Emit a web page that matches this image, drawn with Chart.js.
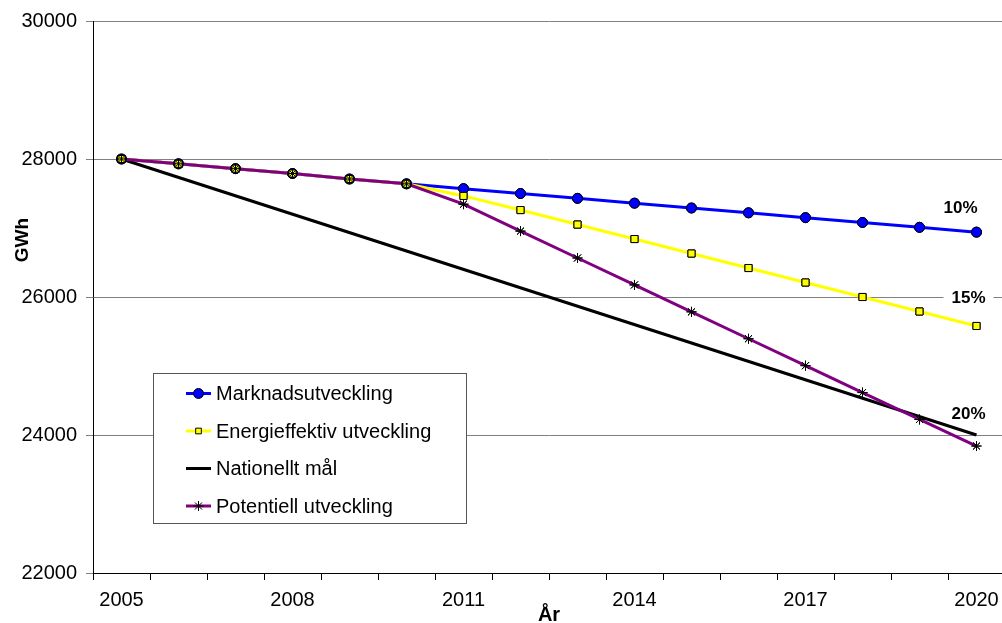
<!DOCTYPE html>
<html>
<head>
<meta charset="utf-8">
<script src="https://cdn.jsdelivr.net/npm/chart.js@4.4.1/dist/chart.umd.min.js"></script>
<style>
  html, body { margin: 0; padding: 0; overflow: hidden; background: #fff; }
  #gwhChart { position: absolute; left: 0; top: 0; }
</style>
</head>
<body>
<canvas id="gwhChart" width="1011" height="623"></canvas>
<script>
const years = ['2005', '2006', '2007', '2008', '2009', '2010', '2011', '2012',
  '2013', '2014', '2015', '2016', '2017', '2018', '2019', '2020'];

const marknadsutveckling = [28000, 27930, 27860, 27790, 27710, 27640, 27570, 27500,
  27430, 27360, 27290, 27220, 27150, 27080, 27010, 26940];
const energieffektiv = [28000, 27930, 27860, 27790, 27710, 27640, 27465, 27260,
  27050, 26840, 26630, 26420, 26210, 26000, 25790, 25580];
// straight target line, only the two ends are given
const nationelltMal = [28000, null, null, null, null, null, null, null,
  null, null, null, null, null, null, null, 24000];
const potentiell = [28000, 27930, 27860, 27790, 27710, 27640, 27345, 26955,
  26565, 26175, 25785, 25395, 25005, 24615, 24225, 23840];

const seriesNames = ['Marknadsutveckling', 'Energieffektiv utveckling', 'Nationellt mål', 'Potentiell utveckling'];
const yTicks = [22000, 24000, 26000, 28000, 30000];
const pctLabels = ['10%', '15%', '20%'];
const pctValues = [27300, 26000, 24320];

const FONT = '"Liberation Sans", Arial, sans-serif';

// Excel draws all lines first and the markers afterwards
const overlay = {
  id: 'overlay',
  afterDatasetsDraw(chart) {
    const ctx = chart.ctx;
    [0, 1, 3].forEach(i => {
      chart.getDatasetMeta(i).data.forEach(p => p.draw(ctx, chart.chartArea));
    });
  },
  afterDraw(chart) {
    const ctx = chart.ctx;
    const xs = chart.scales.x, ys = chart.scales.y;
    ctx.save();

    // percentage labels at the right end
    ctx.font = 'bold 17px ' + FONT;
    ctx.textAlign = 'center';
    ctx.textBaseline = 'middle';
    const xr = xs.getPixelForValue(years.length - 1);
    pctLabels.forEach((t, i) => {
      const y = ys.getPixelForValue(pctValues[i]);
      const x = i === 0 ? xr - 16 : xr - 8;
      if (i === 1) {
        ctx.fillStyle = '#fff';
        ctx.fillRect(x - 25, y - 8, 50, 16);
      }
      ctx.fillStyle = '#000';
      ctx.fillText(t, x, y + 1);
    });

    // axis titles
    ctx.font = 'bold 20px ' + FONT;
    ctx.textBaseline = 'alphabetic';
    ctx.fillText('År', (chart.chartArea.left + chart.chartArea.right) / 2, 621);
    ctx.save();
    ctx.translate(28, 240);
    ctx.rotate(-Math.PI / 2);
    ctx.font = 'bold 19px ' + FONT;
    ctx.fillText('GWh', 0, 0);
    ctx.restore();

    // legend box
    ctx.fillStyle = '#fff';
    ctx.fillRect(153.5, 373.5, 313, 150);
    ctx.strokeStyle = '#555';
    ctx.lineWidth = 1;
    ctx.strokeRect(153.5, 373.5, 313, 150);
    ctx.font = '20px ' + FONT;
    ctx.textAlign = 'left';
    ctx.textBaseline = 'middle';
    chart.data.datasets.forEach((ds, i) => {
      const y = 393.5 + i * 37.5;
      ctx.strokeStyle = ds.borderColor;
      ctx.lineWidth = ds.borderWidth;
      ctx.beginPath();
      ctx.moveTo(186, y);
      ctx.lineTo(211, y);
      ctx.stroke();
      if (ds.pointRadius > 0) {
        ctx.fillStyle = ds.pointBackgroundColor;
        ctx.strokeStyle = ds.pointBorderColor;
        ctx.lineWidth = 1;
        Chart.helpers.drawPoint(ctx, {
          pointStyle: ds.pointStyle, radius: ds.legendRadius, rotation: 0, borderWidth: 1
        }, 198.5, y);
      }
      ctx.fillStyle = '#000';
      ctx.fillText(ds.label, 216, y + 1);
    });
    ctx.restore();
  }
};

new Chart(document.getElementById('gwhChart'), {
  type: 'line',
  data: {
    labels: years,
    datasets: [
      {
        label: seriesNames[0],
        data: marknadsutveckling,
        borderColor: '#0000ff',
        borderWidth: 3,
        pointStyle: 'circle',
        pointRadius: 5,
        legendRadius: 5,
        pointBackgroundColor: '#0000ff',
        pointBorderColor: '#000',
        pointBorderWidth: 1,
        order: 4
      },
      {
        label: seriesNames[1],
        data: energieffektiv,
        borderColor: '#ffff00',
        borderWidth: 3,
        pointStyle: 'rect',
        pointRadius: 5,
        legendRadius: 4,
        pointBackgroundColor: '#ffff00',
        pointBorderColor: '#000',
        pointBorderWidth: 1,
        order: 3
      },
      {
        label: seriesNames[2],
        data: nationelltMal,
        borderColor: '#000',
        borderWidth: 3,
        pointRadius: 0,
        spanGaps: true,
        order: 2
      },
      {
        label: seriesNames[3],
        data: potentiell,
        borderColor: '#800080',
        borderWidth: 3,
        pointStyle: 'star',
        pointRadius: 5,
        legendRadius: 5,
        pointBackgroundColor: '#000',
        pointBorderColor: '#000',
        pointBorderWidth: 1,
        order: 1
      }
    ]
  },
  options: {
    responsive: false,
    devicePixelRatio: 1,
    animation: false,
    layout: { padding: { top: 20, right: 0, bottom: 0, left: 0 } },
    plugins: {
      legend: { display: false },
      tooltip: { enabled: false }
    },
    scales: {
      x: {
        offset: true,
        afterFit: (s) => { s.height = 50; s.paddingLeft = 0; s.paddingRight = 0; },
        border: { color: '#000', width: 1 },
        grid: {
          offset: true,
          drawOnChartArea: false,
          tickLength: 7,
          color: '#000'
        },
        ticks: {
          autoSkip: false,
          maxRotation: 0,
          padding: 8,
          color: '#000',
          font: { family: FONT, size: 20 },
          callback: (v, i) => (i % 3 === 0 ? years[i] : '')
        }
      },
      y: {
        min: yTicks[0],
        max: yTicks[yTicks.length - 1],
        afterFit: (s) => { s.width = 93; },
        afterBuildTicks: (s) => { s.ticks = yTicks.map(v => ({ value: v })); },
        border: { color: '#000', width: 1 },
        grid: { color: '#808080', tickLength: 7, tickColor: '#808080' },
        ticks: {
          padding: 9,
          color: '#000',
          font: { family: FONT, size: 20 },
          callback: (v) => String(v)
        }
      }
    }
  },
  plugins: [overlay]
});
</script>
</body>
</html>
